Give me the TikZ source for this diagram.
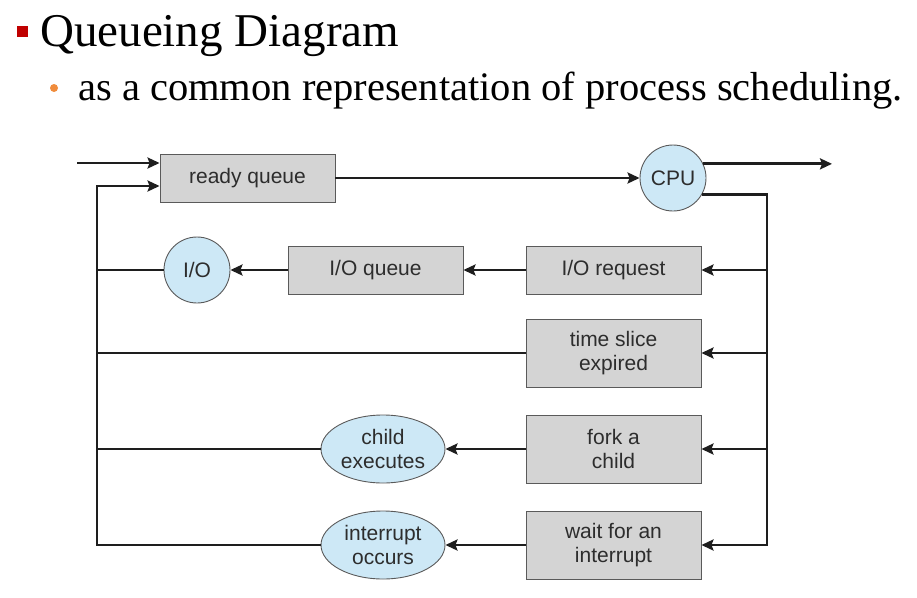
\documentclass[tikz,border=0pt]{standalone}
\usepackage{fontspec}
\setmainfont{Liberation Serif}
\newfontfamily\diagfont{Liberation Sans}
\usetikzlibrary{arrows.meta,shapes.geometric}
\definecolor{boxfill}{RGB}{212,212,212}
\definecolor{boxline}{RGB}{90,90,90}
\definecolor{cfill}{RGB}{205,232,246}
\definecolor{lin}{RGB}{30,30,30}
\definecolor{txt}{RGB}{45,45,45}
\definecolor{bred}{RGB}{192,0,0}
\definecolor{borange}{RGB}{240,140,60}
\tikzset{
  qbox/.style={draw=boxline,line width=0.9pt,fill=boxfill,minimum width=175pt,minimum height=48pt,inner sep=0pt,
    font=\diagfont\fontsize{21}{24}\selectfont,text=txt,align=center},
  tallbox/.style={qbox,minimum height=68pt},
  circ/.style={circle,draw=boxline,line width=0.9pt,fill=cfill,minimum size=66pt,inner sep=0pt,
    font=\diagfont\fontsize{21}{24}\selectfont,text=txt},
  ell/.style={ellipse,draw=boxline,line width=0.9pt,fill=cfill,minimum width=124pt,minimum height=68pt,inner sep=0pt,
    font=\diagfont\fontsize{21}{24}\selectfont,text=txt,align=center},
  conn/.style={draw=lin,line width=2.8pt},
  arr/.style={conn,-{Stealth[length=12pt,width=11pt,inset=2pt]}},
}
\begin{document}
\begin{tikzpicture}[x=1pt,y=-1pt]
\useasboundingbox (0,0) rectangle (917,597);
% header
\fill[bred] (17,26) rectangle (28,37);
\node[anchor=base west,inner sep=0pt,font=\fontsize{47}{52}\selectfont] (title) at (40,46) {Queueing Diagram};
\fill[borange] (54,88) circle (4);
\node[anchor=base west,inner sep=0pt,font=\fontsize{40.5}{46}\selectfont] (sub) at (78,100) {as a common representation of process scheduling.};
% nodes
\node[qbox] (rq) at (247.5,178) {ready queue};
\node[circ] (cpu) at (673,178) {CPU};
\node[qbox] (ioreq) at (613.5,270) {I/O request};
\node[qbox] (ioq) at (375.5,270) {I/O queue};
\node[circ] (io) at (197,270) {I/O};
\node[tallbox] (ts) at (613.5,353) {time slice\\expired};
\node[tallbox] (fork) at (613.5,449) {fork a\\child};
\node[ell] (child) at (383,449) {child\\executes};
\node[tallbox] (wait) at (613.5,545) {wait for an\\interrupt};
\node[ell] (intr) at (383,545) {interrupt\\occurs};
% helper coordinates
\coordinate (in1) at (77,163);
\coordinate (lt) at (97,186);
\coordinate (lb) at (97,545);
\coordinate (rb) at (767,545);
\coordinate (out) at (832,165);
% connectors
\draw[arr] (in1) -- (rq.west |- in1);
\draw[arr] (intr.west) -- (lb) -- (lt) -- (rq.west |- lt);
\draw[conn] (child.west) -- (child.west -| lt);
\draw[conn] (ts.west) -- (ts.west -| lt);
\draw[conn] (io.west) -- (io.west -| lt);
\draw[arr] (rq.east) -- (cpu.west);
\draw[arr] (cpu.25) -- (cpu.25 -| out);
\draw[arr] (cpu.-30) -| (rb) -- (wait.east);
\draw[arr] (ioreq.east -| rb) -- (ioreq.east);
\draw[arr] (ts.east -| rb) -- (ts.east);
\draw[arr] (fork.east -| rb) -- (fork.east);
\draw[arr] (ioreq.west) -- (ioq.east);
\draw[arr] (ioq.west) -- (io.east);
\draw[arr] (fork.west) -- (child.east);
\draw[arr] (wait.west) -- (intr.east);
\end{tikzpicture}
\end{document}
